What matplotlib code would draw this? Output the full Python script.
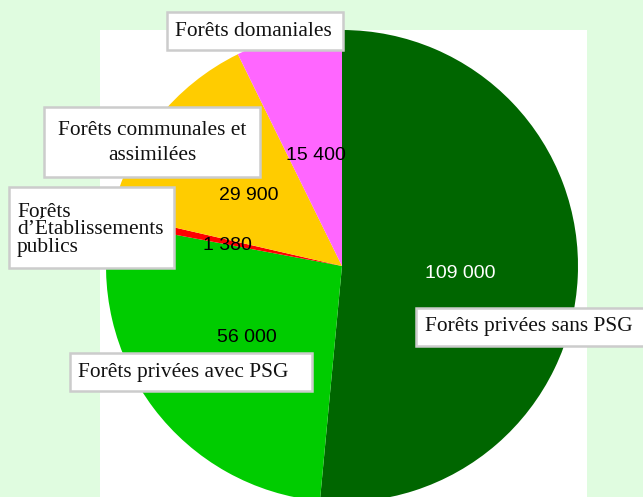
import matplotlib.pyplot as plt
from matplotlib.patches import Rectangle

# surfaces (ha), clockwise from 12 o'clock
categories = [
    "Forêts privées sans PSG",
    "Forêts privées avec PSG",
    "Forêts\nd\u2019Établissements\npublics",
    "Forêts communales et\nassimilées",
    "Forêts domaniales",
]
values = [109000, 56000, 1380, 29900, 15400]
value_labels = ["109 000", "56 000", "1 380", "29 900", "15 400"]
colors = ["#006600", "#00cc00", "#ff0000", "#ffcc00", "#ff66ff"]
value_colors = ["white", "black", "black", "black", "black"]

W, H = 643, 497

# layout in pixel coords (top-left origin)
value_pos = [(460, 273), (247, 338), (227, 245), (249, 195), (316, 155)]
# (x0, y0, x1, y1, text x, text y, ha)
boxes = [
    (416, 308, 650, 346, 425, 327, "left"),
    (70, 353, 312, 391, 78, 372, "left"),
    (9, 187, 174, 268, 17, 230, "left"),
    (44, 107, 260, 177, 152, 143, "center"),
    (167, 12, 343, 50, 253, 31, "center"),
]
line_sp = [1.2, 1.2, 0.88, 1.4, 1.2]


def py(y):
    return H - y


fig = plt.figure(figsize=(W / 100, H / 100), dpi=100)
fig.patch.set_facecolor("#e0fce0")
ax = fig.add_axes([0, 0, 1, 1])
ax.set_facecolor("none")

ax.add_patch(Rectangle((100, py(497)), 487, 497 - 30, facecolor="white",
                       edgecolor="none", zorder=0))

ax.pie(values, colors=colors, startangle=90, counterclock=False,
       center=(342, py(266)), radius=236, frame=True,
       wedgeprops=dict(linewidth=0))

for lab, (x, y), c in zip(value_labels, value_pos, value_colors):
    ax.text(x, py(y), lab, ha="center", va="center", color=c,
            fontsize=14, family="Liberation Sans", zorder=5)

for cat, (x0, y0, x1, y1, tx, ty, ha), ls in zip(categories, boxes, line_sp):
    ax.add_patch(Rectangle((x0, py(y1)), x1 - x0, y1 - y0, facecolor="white",
                           edgecolor="#cccccc", linewidth=1.8, zorder=6))
    ax.text(tx, py(ty), cat, ha=ha, va="center", multialignment=ha,
            fontsize=15.4, family="Liberation Serif", color="#111111",
            linespacing=ls, zorder=7)

ax.set_xlim(0, W)
ax.set_ylim(0, H)
ax.set_aspect("auto")
ax.axis("off")

fig.savefig("out.png", dpi=100, facecolor=fig.get_facecolor())
